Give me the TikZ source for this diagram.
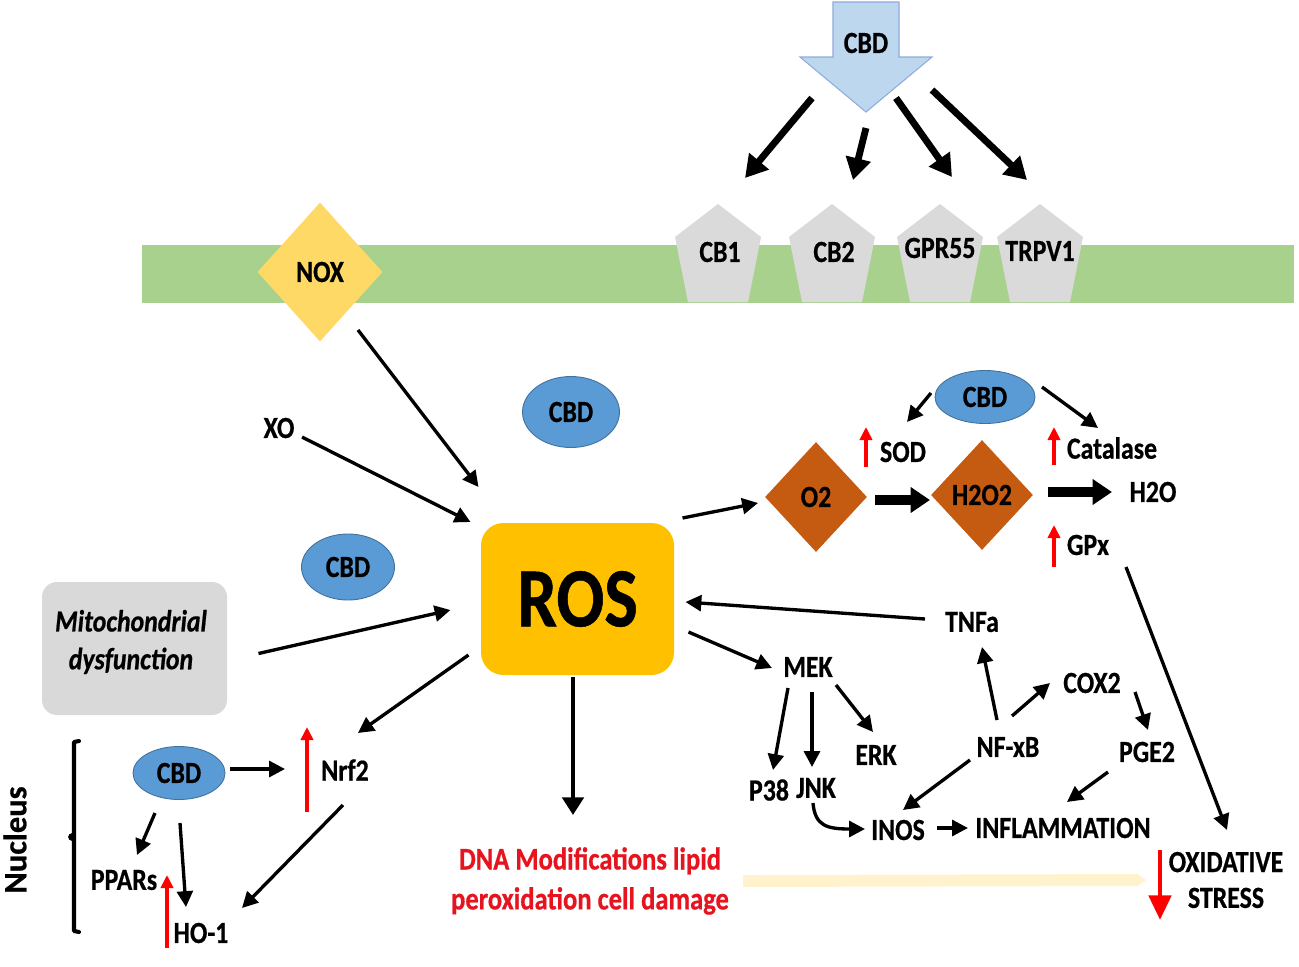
\documentclass[tikz,border=0pt]{standalone}
\usepackage{fontspec}
\setmainfont{Carlito}[FakeStretch=0.84, BoldFeatures={FakeBold=0.6}, BoldItalicFeatures={FakeBold=0.6}]
\newfontfamily\nucfont{Carlito}[BoldFeatures={FakeBold=0.6}]
\usetikzlibrary{arrows.meta,shapes.geometric}
\definecolor{memb}{HTML}{A9D18E}
\definecolor{rec}{HTML}{DADADA}
\definecolor{noxc}{HTML}{FFD966}
\definecolor{rosc}{HTML}{FFC000}
\definecolor{oxc}{HTML}{C55A11}
\definecolor{cbdc}{HTML}{5B9BD5}
\definecolor{cbde}{HTML}{41719C}
\definecolor{cbdtopc}{HTML}{BDD7EE}
\definecolor{cbdtope}{HTML}{8FAADC}
\definecolor{mitoc}{HTML}{D9D9D9}
\definecolor{barc}{HTML}{FFF2CC}
\definecolor{dnared}{HTML}{E5141E}
\definecolor{upred}{HTML}{FF0000}
\newcommand\pu{0.02cm}
\begin{document}
\begin{tikzpicture}[x=0.02cm,y=-0.02cm,
  lbl/.style={font=\bfseries\fontsize{17.5}{20}\selectfont, inner sep=0pt},
  cbd/.style={ellipse, fill=cbdc, draw=cbde, line width=0.5pt, inner sep=0pt, font=\bfseries\fontsize{17.5}{20}\selectfont},
  arr/.style={line width=1.9pt, -{Triangle[length=9pt,width=9pt]}},
  bigarr/.style={line width=3.9pt, -{Triangle[length=12.5pt,width=14pt]}},
  blockarr/.style={line width=5.7pt, -{Triangle[length=11pt,width=14pt]}},
  uparr/.style={upred, line width=2pt, -{Triangle[length=7.5pt,width=7pt]}},
]
\useasboundingbox (0,0) rectangle (1299,967);
\fill[white] (0,0) rectangle (1299,967);

% membrane
\fill[memb] (142,245) rectangle (1294,303);
\foreach \cx in {718,832,940,1040}
  \fill[rec] (\cx,204) -- (\cx+43,237) -- (\cx+30,302) -- (\cx-30,302) -- (\cx-43,237) -- cycle;
\node[lbl] (cb1) at (720,252) {CB1};
\node[lbl] (cb2) at (834,252) {CB2};
\node[lbl] (gpr) at (940,248) {GPR55};
\node[lbl] (trpv) at (1040,251) {TRPV1};
\node[diamond, fill=noxc, minimum width=125*\pu, minimum height=139*\pu, lbl] (nox) at (320,272) {NOX};

% top CBD block arrow
\filldraw[fill=cbdtopc, draw=cbdtope, line width=0.6pt] (833,2) -- (899,2) -- (899,57) -- (932,57) -- (866,112) -- (800,57) -- (833,57) -- cycle;
\node[lbl] (cbdtop) at (866,43) {CBD};

\draw[bigarr] ([shift={(-54,55)}]cbdtop.center) -- ([shift={(25,-74)}]cb1.center);
\draw[bigarr] ([shift={(0,85)}]cbdtop.center) -- ([shift={(19,-72)}]cb2.center);
\draw[bigarr] ([shift={(30,55)}]cbdtop.center) -- ([shift={(12,-71)}]gpr.center);
\draw[bigarr] ([shift={(66,47)}]cbdtop.center) -- ([shift={(-13,-71)}]trpv.center);

% nodes
\node[lbl] (xo) at (279,428) {XO};
\node[cbd, minimum width=97*\pu, minimum height=71*\pu] (cbdA) at (571,412) {CBD};
\node[cbd, minimum width=93*\pu, minimum height=66*\pu] (cbdB) at (348,567) {CBD};
\node[fill=mitoc, rounded corners=0.3cm, minimum width=185*\pu, minimum height=133*\pu, inner sep=0pt] (mito) at (134.5,648.5) {};
\node[align=center, inner sep=0pt, font=\bfseries\itshape\fontsize{17.5}{21.5}\selectfont] (mitotxt) at (131,642) {Mitochondrial\\dysfunction};
\node[fill=rosc, rounded corners=0.45cm, minimum width=193*\pu, minimum height=152*\pu, inner sep=0pt, font=\bfseries\fontsize{48}{52}\selectfont] (ros) at (577.5,599) {ROS};
\node[align=center, inner sep=0pt, text=dnared, font=\bfseries\fontsize{18}{22.7}\selectfont] (dna) at (590,881) {DNA Modifications lipid\\peroxidation cell damage};

\node[lbl] (nrf2) at (345,770) {Nrf2};
\node[cbd, minimum width=92*\pu, minimum height=53*\pu] (cbdN) at (179,773) {CBD};
\node[lbl] (ppars) at (124,880) {PPARs};
\node[lbl] (ho1) at (201,933) {HO-1};
\node[rotate=90, inner sep=0pt, font=\nucfont\bfseries\fontsize{18.5}{20}\selectfont] (nuc) at (15,840) {Nucleus};

\node[diamond, fill=oxc, minimum width=102*\pu, minimum height=110*\pu, lbl] (o2) at (816,497) {O2};
\node[diamond, fill=oxc, minimum width=102*\pu, minimum height=110*\pu, lbl] (h2o2) at (982,495) {H2O2};
\node[lbl] (h2o) at (1153,492) {H2O};
\node[lbl] (sod) at (903,452) {SOD};
\node[lbl] (cat) at (1112,448) {Catalase};
\node[lbl] (gpx) at (1088,545) {GPx};
\node[cbd, minimum width=100*\pu, minimum height=53*\pu] (cbdR) at (985,397) {CBD};

\node[lbl] (tnfa) at (972,622) {TNFa};
\node[lbl] (mek) at (808,667) {MEK};
\node[lbl] (p38) at (769,790) {P38};
\node[lbl] (jnk) at (816,788) {JNK};
\node[lbl] (erk) at (876,755) {ERK};
\node[lbl] (nfkb) at (1008,747) {NF-xB};
\node[lbl] (cox2) at (1092,683) {COX2};
\node[lbl] (pge2) at (1147,752) {PGE2};
\node[lbl] (inos) at (898,830) {INOS};
\node[lbl] (infl) at (1063,828) {INFLAMMATION};
\node[align=center, inner sep=0pt, font=\bfseries\fontsize{17.5}{20.4}\selectfont] (ox) at (1226,880) {OXIDATIVE\\STRESS};

% nucleus bracket
\draw[line width=2.3pt, line cap=round, line join=round] (79,741) -- (74,742) -- (74,931) -- (79,932);
\fill (72,837) circle[radius=2.2pt];

% yellow bar
\draw[barc, line width=6.8pt, -{Triangle[length=5pt,width=6.8pt]}] ([shift={(153,0)}]dna.center) -- ([shift={(-80,0)}]ox.center);

% connectors around ROS
\draw[arr] ([shift={(38,58)}]nox.center) -- ([shift={(-99,-112)}]ros.center);
\draw[arr] ([shift={(23,9)}]xo.center) -- ([shift={(-107,-77)}]ros.center);
\draw[arr] ([shift={(124,5)}]mito.center) -- ([shift={(-127,11)}]ros.center);
\draw[arr] ([shift={(-109,56)}]ros.center) -- ([shift={(13,-37)}]nrf2.center);
\draw[line width=2.6pt, -{Triangle[length=10pt,width=12pt]}] ([shift={(-4.5,78)}]ros.center) -- ([shift={(-17,-66)}]dna.center);
\draw[arr] ([shift={(105,-81)}]ros.center) -- ([shift={(-58,6)}]o2.center);
\draw[arr] ([shift={(-47,-3)}]tnfa.center) -- ([shift={(108,3)}]ros.center);
\draw[arr] ([shift={(111,33)}]ros.center) -- ([shift={(-36,1)}]mek.center);

% nucleus
\draw[arr] ([shift={(51,-4)}]cbdN.center) -- ([shift={(-60,-1)}]nrf2.center);
\draw[arr] ([shift={(-24,40)}]cbdN.center) -- ([shift={(13,-25)}]ppars.center);
\draw[arr] ([shift={(1,50)}]cbdN.center) -- ([shift={(-15,-26)}]ho1.center);
\draw[arr] ([shift={(-2,35)}]nrf2.center) -- ([shift={(41,-25)}]ho1.center);

% signalling
\draw[arr] ([shift={(-20,21)}]mek.center) -- ([shift={(4,-20)}]p38.center);
\draw[arr] ([shift={(4,25)}]mek.center) -- ([shift={(-4,-21)}]jnk.center);
\draw[arr] ([shift={(28,18)}]mek.center) -- ([shift={(-3,-23)}]erk.center);
\draw[arr] ([shift={(-11,-27)}]nfkb.center) -- ([shift={(10,25)}]tnfa.center);
\draw[arr] ([shift={(4,-31)}]nfkb.center) -- ([shift={(-42,0)}]cox2.center);
\draw[arr] ([shift={(-38,13)}]nfkb.center) -- ([shift={(5,-20)}]inos.center);
\draw[arr] ([shift={(43,9)}]cox2.center) -- ([shift={(1,-22)}]pge2.center);
\draw[arr] ([shift={(-39,20)}]pge2.center) -- ([shift={(4,-26)}]infl.center);
\draw[arr] ([shift={(-3,15)}]jnk.center) .. controls ([shift={(-1,38)}]jnk.center) and ([shift={(-71,-1)}]inos.center) .. ([shift={(-33,-1)}]inos.center);
\draw[arr] ([shift={(39,-2)}]inos.center) -- ([shift={(-95,0)}]infl.center);
\draw[arr] ([shift={(38,22)}]gpx.center) -- ([shift={(1,-50)}]ox.center);

% antioxidant
\draw[arr] ([shift={(-54,-4)}]cbdR.center) -- ([shift={(4,-30)}]sod.center);
\draw[arr] ([shift={(57,-10)}]cbdR.center) -- ([shift={(-14,-20)}]cat.center);
\draw[blockarr] ([shift={(59,3)}]o2.center) -- ([shift={(-52,5)}]h2o2.center);
\draw[blockarr] ([shift={(66,-3)}]h2o2.center) -- ([shift={(-41,0)}]h2o.center);

% red markers
\draw[uparr] ([shift={(-37,15)}]sod.center) -- ([shift={(-37,-25)}]sod.center);
\draw[uparr] ([shift={(-58,17)}]cat.center) -- ([shift={(-58,-21)}]cat.center);
\draw[uparr] ([shift={(-34,22)}]gpx.center) -- ([shift={(-34,-20)}]gpx.center);
\draw[uparr] ([shift={(-38,42)}]nrf2.center) -- ([shift={(-38,-43)}]nrf2.center);
\draw[uparr] ([shift={(-34,15)}]ho1.center) -- ([shift={(-34,-58)}]ho1.center);
\draw[upred, line width=2.8pt, -{Triangle[length=14pt,width=12.5pt]}] ([shift={(-66,-30)}]ox.center) -- ([shift={(-66,40)}]ox.center);
\end{tikzpicture}
\end{document}
